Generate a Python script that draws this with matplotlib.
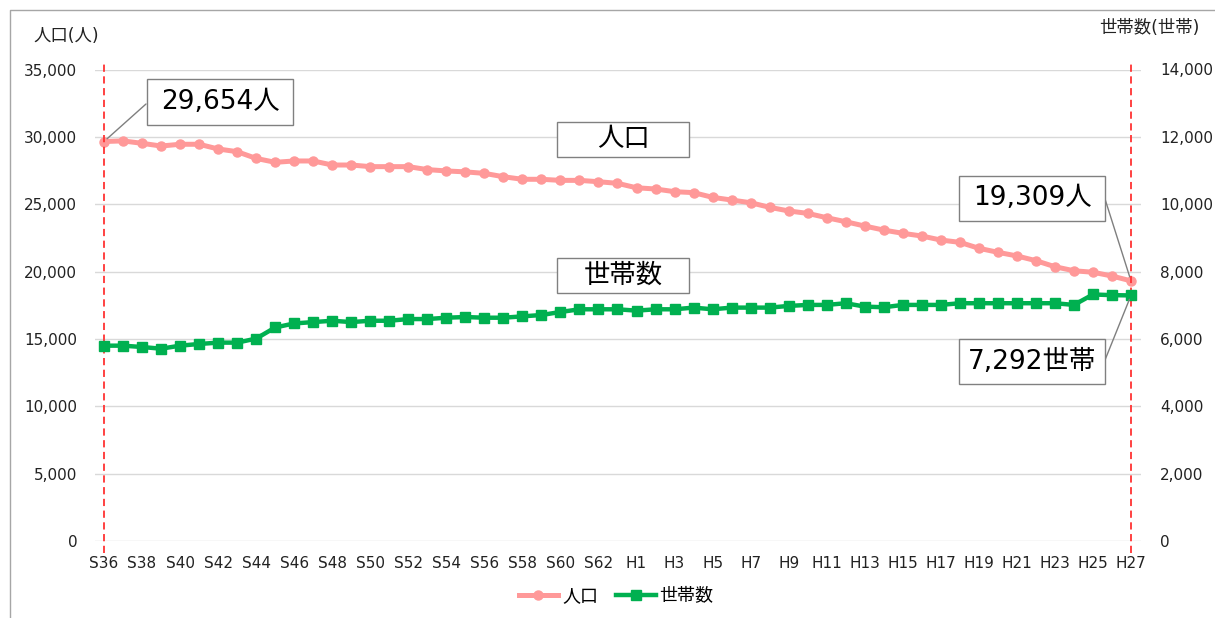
import matplotlib.pyplot as plt
import matplotlib.ticker as mticker
from matplotlib.patches import Rectangle
from matplotlib.lines import Line2D

plt.rcParams['font.family'] = ['DejaVu Sans', 'Noto Sans CJK JP']

# 年次 (S36〜S63, H1〜H27)
years = [f'S{n}' for n in range(36, 64)] + [f'H{n}' for n in range(1, 28)]

# 人口(人)
population = [29654, 29700, 29520, 29320, 29450, 29450, 29100, 28900, 28400, 28110,
              28210, 28210, 27910, 27910, 27790, 27790, 27790, 27570, 27470, 27400,
              27290, 27040, 26850, 26850, 26770, 26770, 26670, 26550, 26220, 26130,
              25930, 25860, 25510, 25310, 25110, 24770, 24500, 24320, 24000, 23700,
              23380, 23080, 22840, 22640, 22340, 22170, 21730, 21430, 21160, 20810,
              20360, 20060, 19950, 19670, 19309]

# 世帯数(世帯)
households = [5800, 5800, 5760, 5710, 5800, 5850, 5890, 5890, 6010, 6340,
              6460, 6500, 6540, 6500, 6540, 6540, 6590, 6590, 6630, 6650,
              6630, 6630, 6670, 6710, 6800, 6880, 6880, 6880, 6840, 6880,
              6880, 6930, 6880, 6930, 6930, 6930, 6980, 7010, 7010, 7060,
              6960, 6940, 7010, 7010, 7010, 7060, 7060, 7060, 7060, 7060,
              7060, 7010, 7320, 7300, 7292]

W, H = 1215, 618
fig = plt.figure(figsize=(W / 100, H / 100), dpi=100)


def fx(x):
    return x / W


def fy(y):
    return 1 - y / H


ax = fig.add_axes([fx(94.5), fy(541), fx(1140.5) - fx(94.5), fy(69.5) - fy(541)])
ax2 = ax.twinx()

x = list(range(len(years)))
pop_color = '#FF9999'
hh_color = '#00B050'

l1, = ax.plot(x, population, color=pop_color, lw=3.6, marker='o', ms=6.5,
              label='人口', zorder=3)
l2, = ax2.plot(x, households, color=hh_color, lw=3.2, marker='s', ms=6.5,
               label='世帯数', zorder=3)

ax.set_xlim(-0.5, len(years) - 0.5)
ax.set_ylim(0, 35000)
ax2.set_ylim(0, 14000)
ax.set_yticks(range(0, 35001, 5000))
ax2.set_yticks(range(0, 14001, 2000))
fmt = mticker.FuncFormatter(lambda v, p: f'{int(v):,}')
ax.yaxis.set_major_formatter(fmt)
ax2.yaxis.set_major_formatter(fmt)
ax.set_xticks(x[::2])
ax.set_xticklabels(years[::2])

ax.grid(axis='y', color='#D9D9D9', lw=1)
ax.set_axisbelow(True)
for a in (ax, ax2):
    for s in a.spines.values():
        s.set_visible(False)
ax.tick_params(axis='y', length=0, pad=12.5, labelsize=11, colors='#222222')
ax.tick_params(axis='x', length=0, pad=11, labelsize=11, colors='#222222')
ax2.tick_params(axis='y', length=0, pad=14, labelsize=11, colors='#222222')

# 始点・終点の赤破線
ax.vlines([x[0], x[-1]], -900, 35560, colors='#FF3333', linestyles=(0, (4, 2.5)),
          lw=1.3, clip_on=False, zorder=4)

# 軸タイトル
fig.text(fx(33), fy(36), '人口(人)', fontsize=12.5, va='center', ha='left', color='#222222')
fig.text(fx(1200), fy(28), '世帯数(世帯)', fontsize=12.5, va='center', ha='right', color='#222222')


def label_box(x0, y0, x1, y1, text):
    fig.patches.append(Rectangle((fx(x0), fy(y1)), fx(x1) - fx(x0), fy(y0) - fy(y1),
                                 transform=fig.transFigure, facecolor='white',
                                 edgecolor='#808080', lw=1, zorder=5))
    fig.text(fx((x0 + x1) / 2), fy((y0 + y1) / 2), text, fontsize=19,
             ha='center', va='center', color='black', zorder=6)


def leader(axis, idx, val, px, py):
    axis.annotate('', xy=(idx, val), xytext=(fx(px), fy(py)), textcoords='figure fraction',
                  arrowprops=dict(arrowstyle='-', color='#7F7F7F', lw=1,
                                  shrinkA=0, shrinkB=3), annotation_clip=False)


label_box(147, 79, 293, 125, f'{population[0]:,}人')
leader(ax, x[0], population[0], 146, 104)
label_box(959, 176, 1105, 221, f'{population[-1]:,}人')
leader(ax, x[-1], population[-1], 1105, 199)
label_box(959, 339, 1105, 384, f'{households[-1]:,}世帯')
leader(ax2, x[-1], households[-1], 1105, 360)
label_box(557, 122, 689, 157, '人口')
label_box(557, 258, 689, 293, '世帯数')

fig.legend([l1, l2], ['人口', '世帯数'], loc='center', bbox_to_anchor=(fx(616), fy(596)),
           ncol=2, frameon=False, fontsize=13, handlelength=2.2, handletextpad=0.2,
           columnspacing=1.0)

# 外枠
fig.lines.append(Line2D([fx(9.5), fx(9.5), 1.0], [0.0, fy(10), fy(10)],
                        transform=fig.transFigure, color='#A6A6A6', lw=1))

fig.savefig('out.png', dpi=100)
